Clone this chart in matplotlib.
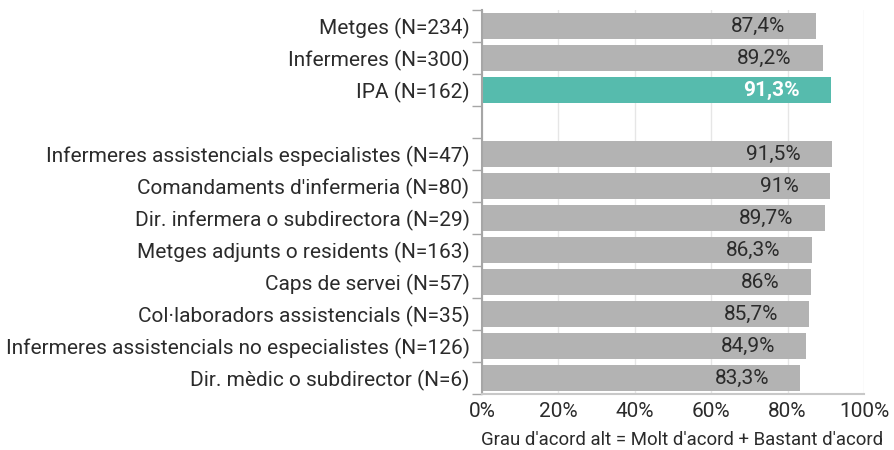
import matplotlib
matplotlib.use("Agg")
import matplotlib.pyplot as plt
from matplotlib.ticker import FixedLocator

plt.rcParams['font.family'] = ['Roboto', 'DejaVu Sans']

categories = [
    "Metges (N=234)",
    "Infermeres (N=300)",
    "IPA (N=162)",
    "",
    "Infermeres assistencials especialistes (N=47)",
    "Comandaments d'infermeria (N=80)",
    "Dir. infermera o subdirectora (N=29)",
    "Metges adjunts o residents (N=163)",
    "Caps de servei (N=57)",
    "Col·laboradors assistencials (N=35)",
    "Infermeres assistencials no especialistes (N=126)",
    "Dir. mèdic o subdirector (N=6)",
]
values = [87.4, 89.2, 91.3, None, 91.5, 91, 89.7, 86.3, 86, 85.7, 84.9, 83.3]
highlight = "IPA (N=162)"
x_ticks = [0, 20, 40, 60, 80, 100]
x_title = "Grau d'acord alt = Molt d'acord + Bastant d'acord"

GRAY = "#b3b3b3"
TEAL = "#56bbad"
TEXT = "#2b2b2b"

W, H = 894, 450
fig = plt.figure(figsize=(W / 100, H / 100), dpi=100)
ax = fig.add_axes([482 / W, 1 - 394 / H, (864 - 482) / W, (394 - 10) / H])

n = len(categories)
for i, (cat, v) in enumerate(zip(categories, values)):
    if v is None:
        continue
    is_hl = cat == highlight
    ax.barh(i, v, height=0.81, color=TEAL if is_hl else GRAY, zorder=2)
    txt = (f"{v:g}".replace(".", ",")) + "%"
    ax.annotate(txt, xy=(v, i), xytext=(-31, 0), textcoords="offset pixels",
                ha="right", va="center", fontsize=15,
                color="white" if is_hl else TEXT,
                fontweight="bold" if is_hl else "normal", zorder=3)

ax.set_xlim(0, 100)
ax.set_ylim(n - 0.5, -0.5)

ax.set_xticks(x_ticks)
ax.set_xticklabels([f"{t}%" for t in x_ticks], fontsize=15, color=TEXT)
ax.tick_params(axis="x", length=0, pad=6)
ax.grid(axis="x", color="#e6e6e6", linewidth=1, zorder=0)

ax.set_yticks(range(n))
ax.set_yticklabels(categories, fontsize=15, color=TEXT)
ax.tick_params(axis="y", which="major", length=0, pad=9)
ax.yaxis.set_minor_locator(FixedLocator([i - 0.5 for i in range(n + 1)]))
ax.tick_params(axis="y", which="minor", length=7, width=1, color="#a6a6a6")

for s in ("top", "right"):
    ax.spines[s].set_visible(False)
ax.spines["left"].set_color("#a6a6a6")
ax.spines["left"].set_linewidth(1.5)
ax.spines["bottom"].set_color("#c8c8c8")
ax.spines["bottom"].set_linewidth(1.5)

fig.text(682 / W, 1 - 440 / H, x_title, ha="center", va="center", fontsize=13.4, color=TEXT)

fig.savefig("out.png", dpi=100)
